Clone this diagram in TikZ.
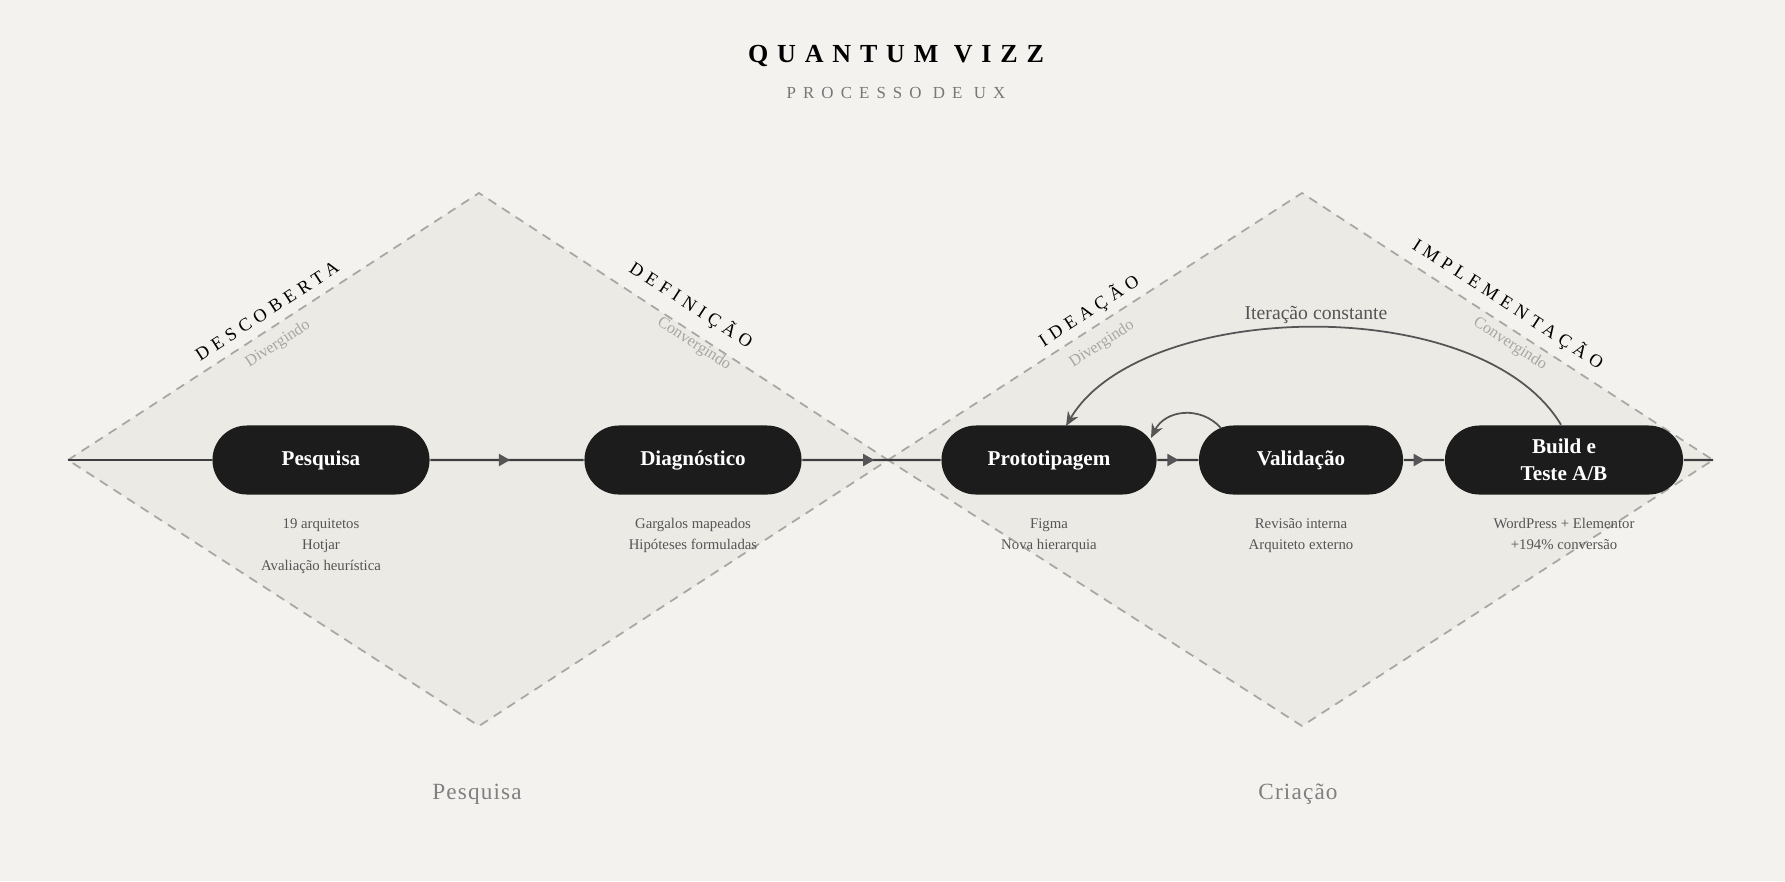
\documentclass[tikz,border=0pt]{standalone}
\usepackage{fontspec}
\setmainfont{Liberation Serif}
\usetikzlibrary{arrows.meta,decorations.markings,shapes.misc}
\definecolor{paper}{HTML}{F4F2EE}
\definecolor{lozenge}{HTML}{ECEAE5}
\definecolor{dashgray}{HTML}{A9A7A3}
\definecolor{pill}{HTML}{1C1C1C}
\definecolor{ink}{HTML}{555555}
\tikzset{
  stage/.style={rounded rectangle, fill=pill, text=white, minimum height=0.69cm, inner sep=0pt, font=\fontsize{6}{7.6}\selectfont\bfseries, align=center},
  note/.style={text=ink, font=\fontsize{4.2}{6}\selectfont, align=center, anchor=north},
  phase/.style={font=\fontsize{5.2}{6}\selectfont\addfontfeature{LetterSpace=30}},
  mode/.style={text=dashgray, font=\fontsize{4.6}{6}\selectfont},
  flow/.style={line width=0.7pt, pill!85, postaction={decorate}, decoration={markings, mark=at position 0.52 with {\arrow{Triangle[length=3.2pt,width=3.4pt,color=ink]}}}},
  back/.style={line width=0.5pt, ink, -{Stealth[length=4pt,width=3.4pt]}},
  diamond line/.style={dashgray, dashed, dash pattern=on 2.6pt off 2pt, line width=0.5pt, fill=lozenge},
}
\begin{document}
\begin{tikzpicture}[x=0.01cm, y=-0.01cm]
  % background and page size
  \fill[paper] (0,0) rectangle (1785,881);
  \useasboundingbox (0,0) rectangle (1785,881);

  % the two diamonds
  \draw[diamond line] (68,460) -- (479,193) -- (888,460) -- (479,726) -- cycle;
  \draw[diamond line] (888,460) -- (1302,193) -- (1713,460) -- (1302,726) -- cycle;

  % title
  \node (title) at (896,56) {\fontsize{7.4}{9}\selectfont\bfseries\addfontfeature{LetterSpace=34}QUANTUM VIZZ};
  \node[text=ink!80] (subtitle) at (896,93) {\fontsize{4.8}{6}\selectfont\addfontfeature{LetterSpace=42}PROCESSO DE UX};

  % phases along the edges
  \node[phase, rotate=33] (descoberta) at (267,311) {DESCOBERTA};
  \node[mode, rotate=33] (div1) at (278,344) {Divergindo};
  \node[phase, rotate=-33] (definicao) at (691,305) {DEFINIÇÃO};
  \node[mode, rotate=-33] (conv1) at (694,344) {Convergindo};
  \node[phase, rotate=33] (ideacao) at (1089,311) {IDEAÇÃO};
  \node[mode, rotate=33] (div2) at (1102,344) {Divergindo};
  \node[phase, rotate=-33] (implementacao) at (1508,304) {IMPLEMENTAÇÃO};
  \node[mode, rotate=-33] (conv2) at (1510,344) {Convergindo};

  % ends of the axis
  \coordinate (start) at (68,460);
  \coordinate (end) at (1713,460);

  % steps
  \node[stage, minimum width=2.17cm] (pesquisa) at (321,460) {Pesquisa};
  \node[stage, minimum width=2.17cm] (diagnostico) at (693,460) {Diagnóstico};
  \node[stage, minimum width=2.15cm] (prototipagem) at (1049,460) {Prototipagem};
  \node[stage, minimum width=2.04cm] (validacao) at (1301,460) {Validação};
  \node[stage, minimum width=2.38cm] (build) at (1564,460) {Build e\\Teste A/B};

  % axis with arrows
  \draw[line width=0.7pt, pill!85] (start) -- (pesquisa);
  \draw[flow] (pesquisa) -- (diagnostico);
  \draw[flow] (diagnostico) -- (prototipagem);
  \draw[flow] (prototipagem) -- (validacao);
  \draw[flow] (validacao) -- (build);
  \draw[line width=0.7pt, pill!85] (build) -- (end);

  % details under the steps
  \node[note] (n1) at (321,506) {19 arquitetos\\Hotjar\\Avaliação heurística};
  \node[note] (n2) at (693,506) {Gargalos mapeados\\Hipóteses formuladas};
  \node[note] (n3) at (1049,506) {Figma\\Nova hierarquia};
  \node[note] (n4) at (1301,506) {Revisão interna\\Arquiteto externo};
  \node[note] (n5) at (1564,506) {WordPress + Elementor\\+194\% conversão};

  % iteration loops
  \node[text=ink, font=\fontsize{5.6}{7}\selectfont] (iter) at (1316,315) {Iteração constante};
  \draw[back] (build.north) ++(-3,0) .. controls (1480,290) and (1140,300) .. (1066,426);
  \draw[back] (1221,428) .. controls (1200,405) and (1165,410) .. (1151,438);

  % bottom labels
  \node[text=ink!75, font=\fontsize{6.6}{8}\selectfont\addfontfeature{LetterSpace=5}] (lab1) at (477,794) {Pesquisa};
  \node[text=ink!75, font=\fontsize{6.6}{8}\selectfont\addfontfeature{LetterSpace=5}] (lab2) at (1298,794) {Criação};
\end{tikzpicture}
\end{document}
